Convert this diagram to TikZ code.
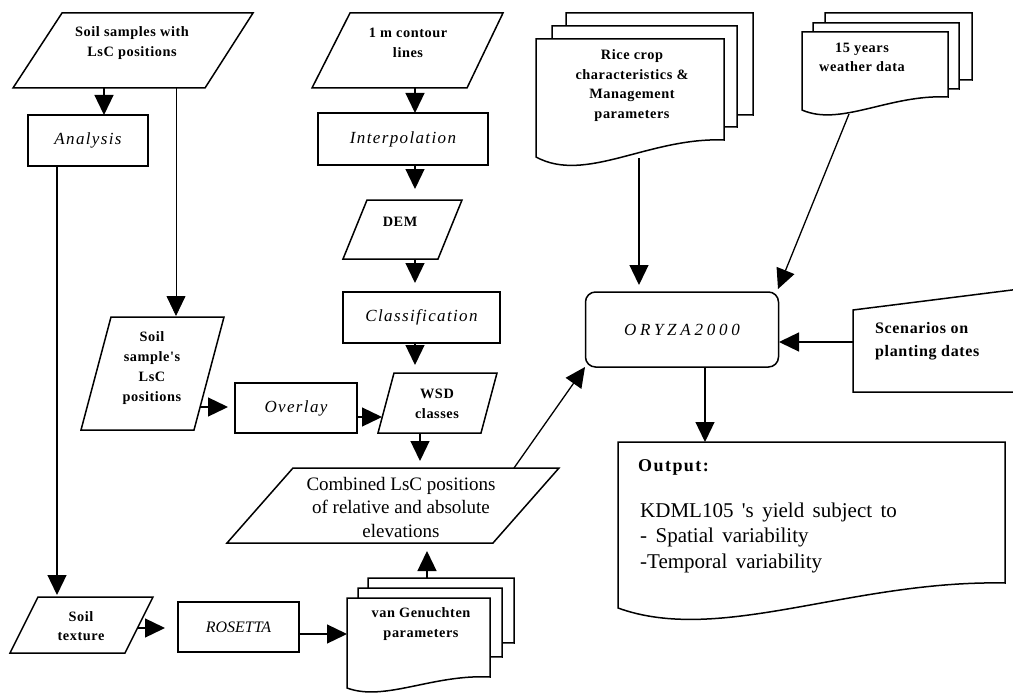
\documentclass[tikz,border=0pt]{standalone}
\usepackage{fontspec}
\setmainfont{Liberation Serif}
\newfontfamily\trackfont[LetterSpace=4]{Liberation Serif}
\newfontfamily\itrackfont[LetterSpace=8]{Liberation Serif}
\newfontfamily\widefont[LetterSpace=22]{Liberation Serif}
\newfontfamily\outfont[WordSpace=1.6]{Liberation Serif}
\usetikzlibrary{arrows.meta}
\tikzset{
  shp/.style={line width=1.5pt, fill=white, line join=miter},
  box/.style={draw, line width=1.5pt, fill=white, inner sep=0pt},
  conn/.style={line width=1.3pt, -{Triangle[length=20pt,width=19pt]}},
  thinconn/.style={line width=0.8pt, -{Triangle[length=20pt,width=19pt]}},
  blab/.style={font=\trackfont\bfseries\fontsize{14.3}{19.5}\selectfont, align=center, inner sep=0pt},
  ilab/.style={font=\itrackfont\itshape\fontsize{17}{20}\selectfont},
  rlab/.style={font=\fontsize{19}{23.5}\selectfont, align=center, inner sep=0pt},
}
% l, t, r, left-bottom, right-bottom, amplitude
\newcommand\docshape[6]{%
  \draw[shp] (#1,#2) -- (#3,#2) -- (#3,#5)
    .. controls ({#1+0.6*(#3-#1)},{#5-3}) and ({#1+0.264*(#3-#1)},{#4+#6}) .. (#1,#4) -- cycle;}
\begin{document}
\begin{tikzpicture}[x=1pt,y=-1pt]
\useasboundingbox (0,0) rectangle (1013,693);

% ---- parallelogram inputs
\draw[shp] (62,13) -- (253,13) -- (205,88) -- (13,88) -- cycle;
\node[blab] (soilA) at (132,43) {Soil samples with\\LsC positions};

\draw[shp] (350,13) -- (503,13) -- (467,88) -- (312,88) -- cycle;
\node[blab] (contour) at (408,43) {1 m contour\\lines};

\draw[shp] (367,200) -- (462,200) -- (438,259) -- (343,259) -- cycle;
\node[blab] (dem) at (400,222) {DEM};

\draw[shp] (111,317) -- (224,317) -- (194,430) -- (81,430) -- cycle;
\node[blab, font=\trackfont\bfseries\fontsize{14.3}{20}\selectfont] (soilB) at (152,368) {Soil\\sample's\\LsC\\positions};

\draw[shp] (394,373) -- (497,373) -- (481,433) -- (378,433) -- cycle;
\node[blab] (wsd) at (437,404) {WSD\\classes};

\draw[shp] (293,468) -- (559,468) -- (493,543) -- (227,543) -- cycle;
\node[rlab] (comb) at (401,507) {Combined LsC positions\\of relative and absolute\\elevations};

\draw[shp] (38,597) -- (153,597) -- (125,653) -- (10,653) -- cycle;
\node[blab] (soilT) at (81,626) {Soil\\texture};

% ---- process boxes
\node[box, minimum width=120pt, minimum height=51pt, ilab] (analysis) at (88,140.5) {Analysis};
\node[box, minimum width=170pt, minimum height=52pt, ilab] (interp) at (403,139) {Interpolation};
\node[box, minimum width=157pt, minimum height=51pt, ilab] (classif) at (421.5,317.5) {Classification};
\node[box, minimum width=122pt, minimum height=50pt, ilab] (overlay) at (296,408) {Overlay};
\node[box, minimum width=121pt, minimum height=50pt, font=\itshape\fontsize{16}{19}\selectfont] (rosetta) at (238.5,627) {ROSETTA};
\node[box, rounded corners=10pt, minimum width=193pt, minimum height=75pt, font=\widefont\itshape\fontsize{17}{20}\selectfont] (oryza) at (682,329.5) {ORYZA2000};

% ---- document stacks
\docshape{566}{13}{753}{132}{115}{20}
\docshape{552}{26}{737}{144}{127}{22}
\docshape{536}{39}{724}{157}{140}{27}
\node[blab] (rice) at (632,85.5) {Rice crop\\characteristics \&\\Management\\parameters};

\docshape{825}{13}{972}{93}{80}{14}
\docshape{813}{23}{959}{102}{89}{15}
\docshape{802}{32}{948}{110}{97}{17}
\node[blab] (weather) at (862,57.5) {15 years\\weather data};

\docshape{368}{578}{514}{655}{643}{12}
\docshape{358}{588}{502}{668}{657}{13}
\docshape{347}{598}{490}{688}{677}{14}
\node[blab] (vg) at (421,624) {van Genuchten\\parameters};

\docshape{618}{442}{1005}{608}{583}{37}
\node[font=\itrackfont\bfseries\fontsize{18}{22}\selectfont, anchor=west, inner sep=0pt] (outhead) at (638,467) {Output:};
\node[font=\outfont\fontsize{21}{25.5}\selectfont, align=left, anchor=west, inner sep=0pt] (outbody) at (640,537.5)
  {KDML105 's yield subject to\\- Spatial variability\\-Temporal variability};

% ---- scenarios (manual input)
\draw[shp] (1020,289) -- (853,310) -- (853,392) -- (1020,392);
\node[blab, font=\trackfont\bfseries\fontsize{16}{23}\selectfont, align=left, anchor=west] (scen) at (875,341.5) {Scenarios on\\planting dates};

% ---- connector end points
\coordinate (c1a) at (104,88);  \coordinate (c1b) at (104,115);
\coordinate (c2a) at (176,88);  \coordinate (c2b) at (176,316);
\coordinate (c3a) at (57,166);  \coordinate (c3b) at (57,595);
\coordinate (c4a) at (200,407); \coordinate (c4b) at (228,407);
\coordinate (c5a) at (357,417); \coordinate (c5b) at (382,417);
\coordinate (c6a) at (420,433); \coordinate (c6b) at (420,461);
\coordinate (c7a) at (427,578); \coordinate (c7b) at (427,551);
\coordinate (c8a) at (138,628); \coordinate (c8b) at (165,628);
\coordinate (c9a) at (299,634); \coordinate (c9b) at (347,634);
\coordinate (c10a) at (415,88);  \coordinate (c10b) at (415,113);
\coordinate (c11a) at (415,165); \coordinate (c11b) at (415,189);
\coordinate (c12a) at (415,259); \coordinate (c12b) at (415,283);
\coordinate (c13a) at (415,343); \coordinate (c13b) at (415,365);
\coordinate (c14a) at (639,158); \coordinate (c14b) at (639,285);
\coordinate (c15a) at (849,114); \coordinate (c15b) at (778,289);
\coordinate (c16a) at (853,342); \coordinate (c16b) at (779,342);
\coordinate (c17a) at (705,367); \coordinate (c17b) at (705,442);
\coordinate (c18a) at (514,468); \coordinate (c18b) at (585,367);

\draw[conn] (c1a) -- (c1b);
\draw[thinconn] (c2a) -- (c2b);
\draw[conn] (c3a) -- (c3b);
\draw[conn] (c4a) -- (c4b);
\draw[conn] (c5a) -- (c5b);
\draw[conn] (c6a) -- (c6b);
\draw[conn] (c7a) -- (c7b);
\draw[conn] (c8a) -- (c8b);
\draw[conn] (c9a) -- (c9b);
\draw[conn] (c10a) -- (c10b);
\draw[conn] (c11a) -- (c11b);
\draw[conn] (c12a) -- (c12b);
\draw[conn] (c13a) -- (c13b);
\draw[conn] (c14a) -- (c14b);
\draw[conn] (c15a) -- (c15b);
\draw[conn] (c16a) -- (c16b);
\draw[conn] (c17a) -- (c17b);
\draw[conn] (c18a) -- (c18b);
\end{tikzpicture}
\end{document}
